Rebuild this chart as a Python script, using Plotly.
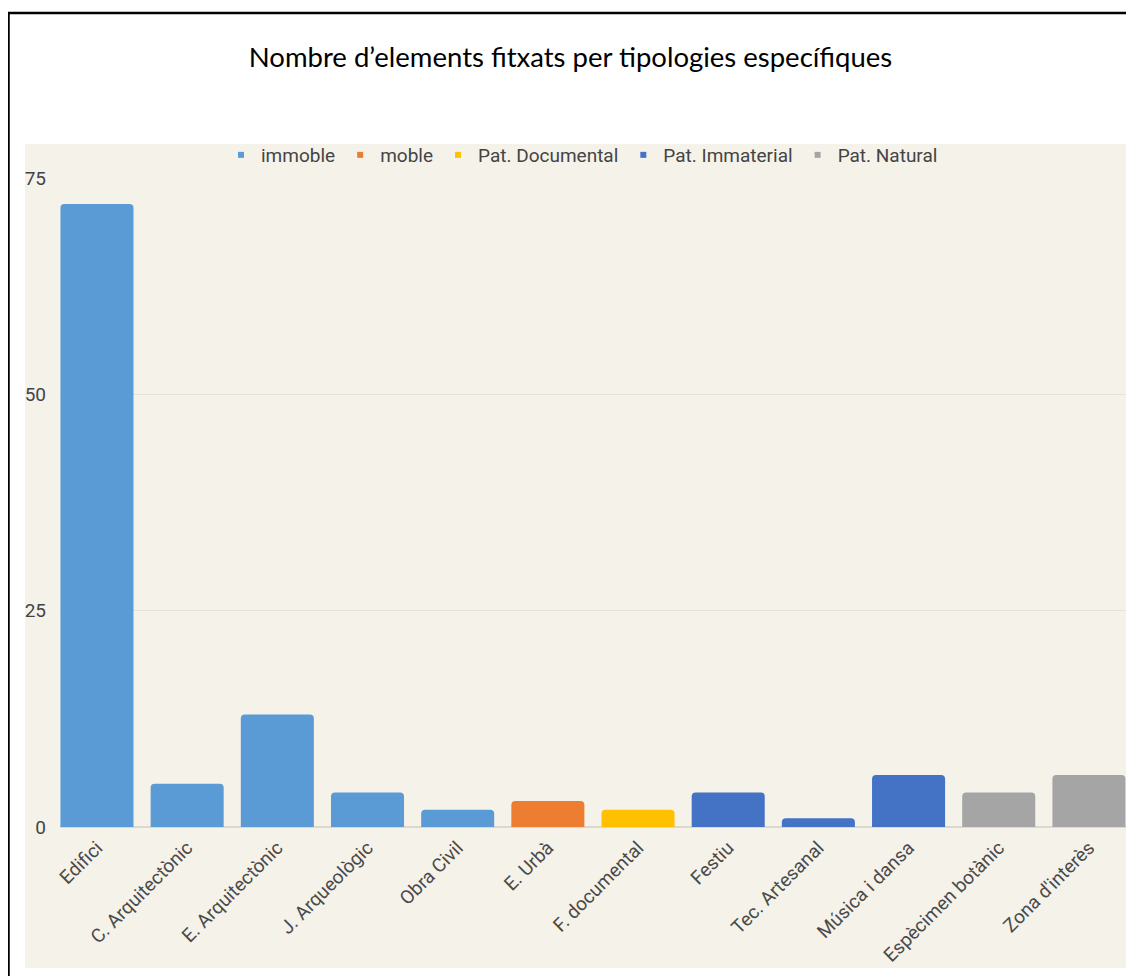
import plotly.graph_objects as go

categories = ["Edifici", "C. Arquitectònic", "E. Arquitectònic", "J. Arqueològic", "Obra Civil",
              "E. Urbà", "F. documental", "Festiu", "Tec. Artesanal", "Música i dansa",
              "Espècimen botànic", "Zona d'interès"]
values = [72, 5, 13, 4, 2, 3, 2, 4, 1, 6, 4, 6]
groups = ["immoble", "immoble", "immoble", "immoble", "immoble",
          "moble", "Pat. Documental", "Pat. Immaterial", "Pat. Immaterial", "Pat. Immaterial",
          "Pat. Natural", "Pat. Natural"]
group_names = ["immoble", "moble", "Pat. Documental", "Pat. Immaterial", "Pat. Natural"]
group_colors = ["#5B9BD5", "#ED7D31", "#FFC000", "#4472C4", "#A5A5A5"]
y_ticks = [0, 25, 50, 75]
title = "Nombre d\u2019elements fitxats per tipologies específiques"

OFF = 8  # page body margin
W, H = 1134 - OFF, 976 - OFF
L, R, T, B = 60 - OFF, 0, 178 - OFF, 976 - 827
pw, ph = W - L - R, H - T - B

def px_x(p):
    return (p - OFF - L) / pw

def px_y(p):
    return (H - B - (p - OFF)) / ph

fig = go.Figure()
idx = list(range(len(categories)))
for g, c in zip(group_names, group_colors):
    xs = [i for i in idx if groups[i] == g]
    ys = [values[i] for i in idx if groups[i] == g]
    fig.add_trace(go.Bar(x=xs, y=ys, marker=dict(color=c, cornerradius=4, line=dict(width=0)),
                         name=g, showlegend=False, width=0.81))
    fig.add_trace(go.Scatter(x=[None], y=[None], mode="markers", name=g,
                             marker=dict(symbol="square", size=6, color=c)))

beige = "#F5F2EA"
fig.update_layout(
    width=W, height=H,
    margin=dict(l=L, r=R, t=T, b=B, pad=0),
    paper_bgcolor="white",
    plot_bgcolor="rgba(0,0,0,0)",
    barmode="relative",
    title=dict(text=title, x=(570.5 - OFF) / W, xanchor="center", y=1 - (57 - OFF) / H,
               yanchor="middle",
               font=dict(family="Lato, Open Sans, sans-serif", size=27.5, color="black")),
    legend=dict(orientation="h", x=(582 - OFF - L) / pw, xanchor="center", y=px_y(155),
                yanchor="middle",
                font=dict(family="Roboto", size=19, color="#444"), bgcolor="rgba(0,0,0,0)",
                itemwidth=30, tracegroupgap=0),
    xaxis=dict(tickmode="array", tickvals=idx, ticktext=categories, tickangle=-45,
               range=[-0.41, 11.5], showgrid=False, zeroline=False, showline=False,
               tickfont=dict(family="Roboto", size=19, color="#4a4a4a"), ticks="",
               ticklabelstandoff=5),
    yaxis=dict(range=[0, 75], tickvals=y_ticks, showgrid=True, gridcolor="#E6E2D8", gridwidth=1,
               zeroline=True, zerolinecolor="#DDD8CE", zerolinewidth=2,
               tickfont=dict(family="Roboto", size=19, color="#444"), ticks="",
               ticklabelstandoff=13),
    shapes=[
        dict(type="rect", xref="paper", yref="paper", layer="below",
             x0=px_x(25), x1=px_x(1126), y0=px_y(968), y1=px_y(144),
             fillcolor=beige, line=dict(width=0)),
        dict(type="rect", xref="paper", yref="paper", layer="above",
             x0=px_x(8.5), x1=px_x(1160), y0=px_y(1000), y1=px_y(13),
             fillcolor="rgba(0,0,0,0)", line=dict(color="black", width=2.5)),
    ],
)

fig.write_html("out.html")
